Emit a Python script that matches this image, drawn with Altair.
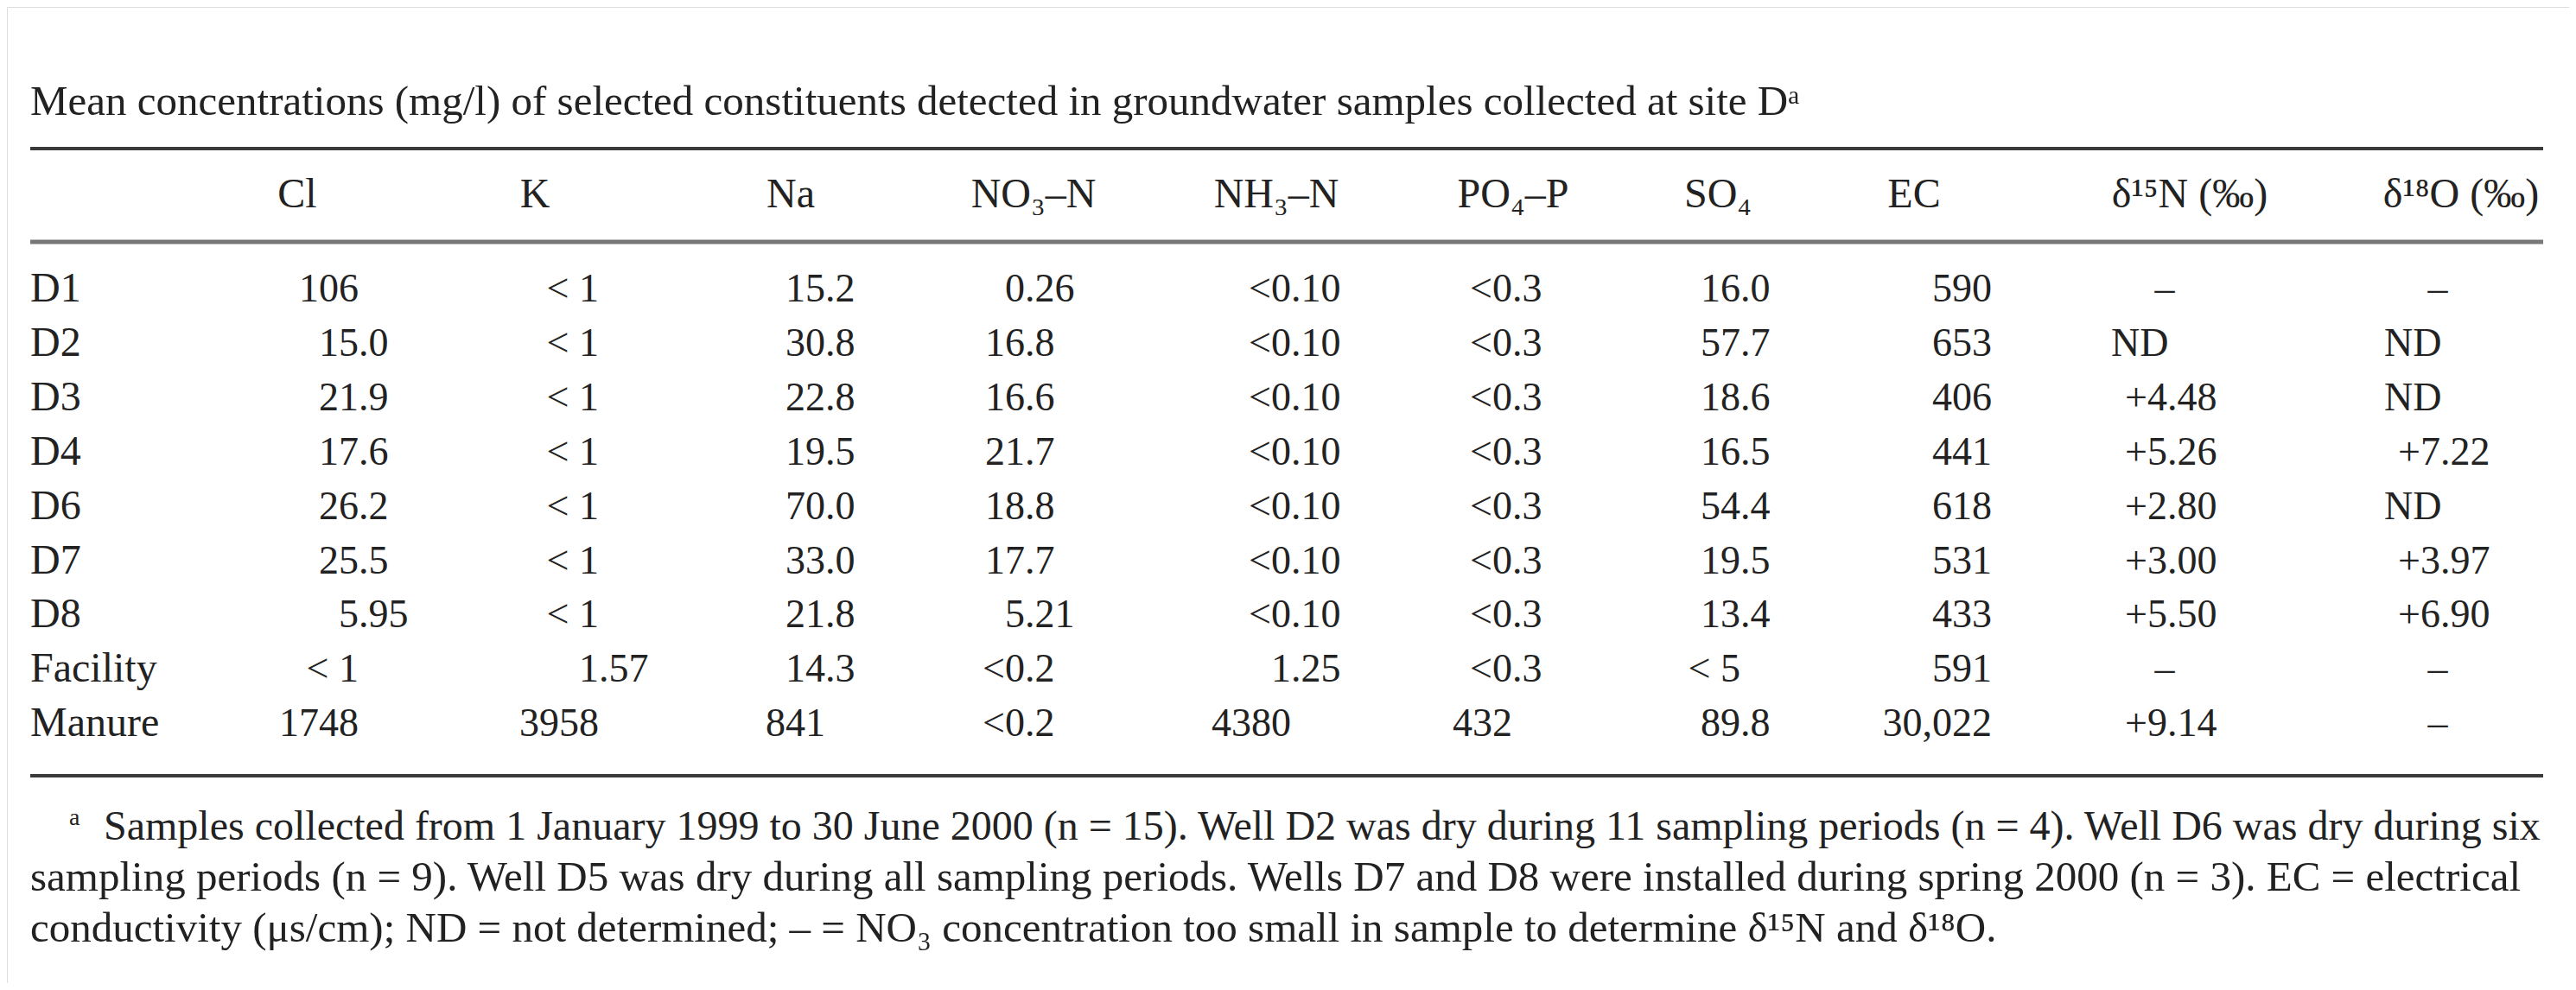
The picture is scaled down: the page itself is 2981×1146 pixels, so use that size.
import altair as alt
import pandas as pd

# ---------------- data ----------------
title_text = "Mean concentrations (mg/l) of selected constituents detected in groundwater samples collected at site Dᵃ"
rows = ["D1", "D2", "D3", "D4", "D6", "D7", "D8", "Facility", "Manure"]
columns = ["Cl", "K", "Na", "NO₃–N", "NH₃–N", "PO₄–P", "SO₄", "EC", "δ¹⁵N (‰)", "δ¹⁸O (‰)"]

cl = ["106", "15.0", "21.9", "17.6", "26.2", "25.5", "5.95", "< 1", "1748"]
k = ["< 1", "< 1", "< 1", "< 1", "< 1", "< 1", "< 1", "1.57", "3958"]
na = ["15.2", "30.8", "22.8", "19.5", "70.0", "33.0", "21.8", "14.3", "841"]
no3 = ["0.26", "16.8", "16.6", "21.7", "18.8", "17.7", "5.21", "<0.2", "<0.2"]
nh3 = ["<0.10", "<0.10", "<0.10", "<0.10", "<0.10", "<0.10", "<0.10", "1.25", "4380"]
po4 = ["<0.3", "<0.3", "<0.3", "<0.3", "<0.3", "<0.3", "<0.3", "<0.3", "432"]
so4 = ["16.0", "57.7", "18.6", "16.5", "54.4", "19.5", "13.4", "< 5", "89.8"]
ec = ["590", "653", "406", "441", "618", "531", "433", "591", "30,022"]
d15n = ["–", "ND", "+4.48", "+5.26", "+2.80", "+3.00", "+5.50", "–", "+9.14"]
d18o = ["–", "ND", "ND", "+7.22", "ND", "+3.97", "+6.90", "–", "–"]

footnote_lines = [
    "Samples collected from 1 January 1999 to 30 June 2000 (n = 15). Well D2 was dry during 11 sampling periods (n = 4). Well D6 was dry during six",
    "sampling periods (n = 9). Well D5 was dry during all sampling periods. Wells D7 and D8 were installed during spring 2000 (n = 3). EC = electrical",
    "conductivity (μs/cm); ND = not determined; – = NO₃ concentration too small in sample to determine δ¹⁵N and δ¹⁸O.",
]

# ---------------- layout (page pixel positions) ----------------
W, H = 2965, 1130
OFF = 8
FONT = "Liberation Serif"
FS_NUM = 46
FS_LABEL = 48
FS_TITLE = 49
INK = "#222222"
LEFT = 35
RIGHT = 2943
header_x = [344, 619, 915, 1196, 1477, 1751, 1988, 2215, 2534, 2848]
anchor_x = [415, 693, 955, 1186, 1494, 1750, 2014, 2305, 2508, 2824]
title_y = 133
header_y = 240
row_y0, row_dy = 349, 62.9
foot_y = [972, 1031, 1090]
foot_x = [120, LEFT, LEFT]
foot_fs = [48, 49, 49]
rule_y = [172, 280, 898]
rule_w = [4, 5, 4]
rule_c = ["#3a3a3a", "#777777", "#3a3a3a"]

values = [cl, k, na, no3, nh3, po4, so4, ec, d15n, d18o]

right_cells, left_cells, center_cells = [], [], []
for ci, col in enumerate(columns):
    center_cells.append({"x": header_x[ci], "y": header_y, "t": col, "fs": FS_LABEL})
    for ri, v in enumerate(values[ci]):
        y = row_y0 + ri * row_dy
        ax = anchor_x[ci]
        if v == "ND":
            left_cells.append({"x": ax - 65, "y": y, "t": v, "fs": FS_NUM})
        elif v == "–":
            center_cells.append({"x": ax - 3, "y": y, "t": v, "fs": FS_NUM})
        else:
            if "." in v:
                ip, fp = v.split(".", 1)
                right_cells.append({"x": ax, "y": y, "t": ip, "fs": FS_NUM})
                left_cells.append({"x": ax, "y": y, "t": "." + fp, "fs": FS_NUM})
            else:
                right_cells.append({"x": ax, "y": y, "t": v, "fs": FS_NUM})

for ri, r in enumerate(rows):
    left_cells.append({"x": LEFT, "y": row_y0 + ri * row_dy, "t": r, "fs": FS_LABEL})
left_cells.append({"x": LEFT, "y": title_y, "t": title_text, "fs": FS_TITLE})
for i, line in enumerate(footnote_lines):
    left_cells.append({"x": foot_x[i], "y": foot_y[i], "t": line, "fs": foot_fs[i]})
left_cells.append({"x": 80, "y": foot_y[0] - 17, "t": "a", "fs": 28})

xs = alt.Scale(domain=[OFF, OFF + W], range=[0, W])
ys = alt.Scale(domain=[OFF, OFF + H], range=[0, H])


def text_layer(cells, align):
    return alt.Chart(pd.DataFrame(cells)).mark_text(
        align=align, baseline="alphabetic", font=FONT, color=INK
    ).encode(
        x=alt.X("x:Q", scale=xs, axis=None),
        y=alt.Y("y:Q", scale=ys, axis=None),
        size=alt.Size("fs:Q", scale=None, legend=None),
        text="t:N",
    )


rules_df = pd.DataFrame({
    "x": [LEFT] * 3, "x2": [RIGHT] * 3, "y": rule_y, "w": rule_w, "c": rule_c
})
rules = alt.Chart(rules_df).mark_rule().encode(
    x=alt.X("x:Q", scale=xs, axis=None),
    x2="x2:Q",
    y=alt.Y("y:Q", scale=ys, axis=None),
    strokeWidth=alt.StrokeWidth("w:Q", scale=None, legend=None),
    color=alt.Color("c:N", scale=None, legend=None),
)

chart = alt.layer(
    rules,
    text_layer(right_cells, "right"),
    text_layer(left_cells, "left"),
    text_layer(center_cells, "center"),
).properties(width=W, height=H, padding=0).configure_view(stroke=None).configure(background="white")

chart.save("out.html", embed_options={"renderer": "svg", "actions": False})
